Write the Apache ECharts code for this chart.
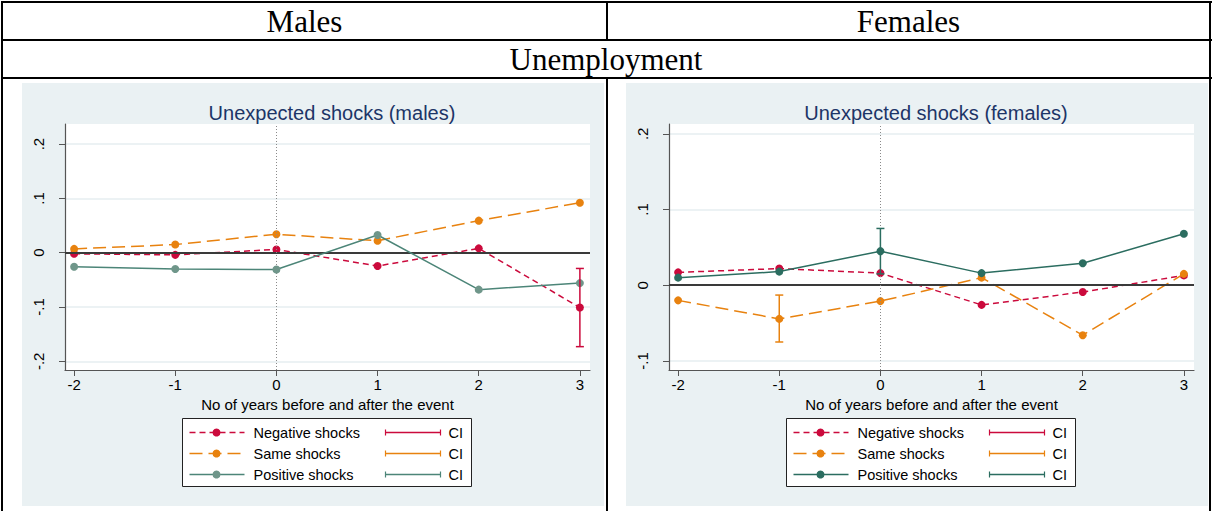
<!DOCTYPE html>
<html><head><meta charset="utf-8">
<script src="https://cdn.jsdelivr.net/npm/echarts@6/dist/echarts.min.js"></script>
<style>
body{margin:0;width:1212px;height:511px;background:#fff;position:relative;overflow:hidden;}
.b{position:absolute;background:#000;}
.h{position:absolute;font-family:"Liberation Serif",serif;font-size:31px;line-height:31px;text-align:center;color:#000;white-space:nowrap;}
.c{position:absolute;top:83px;width:582px;height:423px;background:#eaf1f3;}
</style></head><body>
<div class="b" style="left:1px;top:1px;width:1211px;height:2px"></div>
<div class="b" style="left:1px;top:1px;width:2px;height:510px"></div>
<div class="b" style="left:1209px;top:1px;width:2px;height:510px"></div>
<div class="b" style="left:1px;top:39px;width:1211px;height:2px"></div>
<div class="b" style="left:1px;top:77px;width:1211px;height:2px"></div>
<div class="b" style="left:606px;top:1px;width:2px;height:40px"></div>
<div class="b" style="left:606px;top:77px;width:2px;height:434px"></div>
<div class="h" style="left:3px;width:603px;top:6px">Males</div>
<div class="h" style="left:608px;width:601px;top:6px">Females</div>
<div class="h" style="left:3px;width:1206px;top:44px">Unemployment</div>
<div id="cm" class="c" style="left:22px"></div>
<div id="cf" class="c" style="left:626px"></div>
<script>
// ---- data ----
const years = [-2, -1, 0, 1, 2, 3];
const xTicks = [-2, -1, 0, 1, 2, 3];
const maleYTicks = [-0.2, -0.1, 0, 0.1, 0.2];
const femaleYTicks = [-0.1, 0, 0.1, 0.2];
const seriesNames = ['Negative shocks', 'Same shocks', 'Positive shocks'];
const ciLabel = 'CI';
const xTitle = 'No of years before and after the event';
const maleTitle = 'Unexpected shocks (males)';
const femaleTitle = 'Unexpected shocks (females)';

const maleNeg  = [-0.002, -0.004, 0.006, -0.0245, 0.008, -0.101];
const maleSame = [0.007, 0.015, 0.034, 0.022, 0.059, 0.092];
const malePos  = [-0.026, -0.030, -0.031, 0.0326, -0.068, -0.056];
// CI: [x, low, high]
const maleNegCI  = [[3, -0.173, -0.029]];
const maleSameCI = [];
const malePosCI  = [];

const femaleNeg  = [0.017, 0.022, 0.016, -0.026, -0.009, 0.013];
const femaleSame = [-0.020, -0.0445, -0.021, 0.010, -0.066, 0.015];
const femalePos  = [0.010, 0.018, 0.045, 0.016, 0.029, 0.068];
const femaleNegCI  = [];
const femaleSameCI = [[-1, -0.075, -0.013]];
const femalePosCI  = [[0, 0.015, 0.075]];

// ---- styling ----
const RED = '#cb0a3c', ORANGE = '#e8820f';
const FONT = '"Liberation Sans", Arial, sans-serif';

function fmtY(v) {
  if (Math.abs(v) < 1e-9) return '0';
  const s = String(Math.round(v * 10) / 10);
  return s.replace('0.', '.');
}

function makeChart(el, cfg) {
  const chart = echarts.init(el, null, { renderer: 'svg' });
  const pts = arr => years.map((x, i) => [x, arr[i]]);
  const colors = [RED, ORANGE, cfg.posLine];
  const markerColors = [RED, ORANGE, cfg.posMarker];
  const dashes = [[6, 4], [13, 6], 'solid'];
  const vals = [cfg.neg, cfg.same, cfg.pos];
  const cis = [cfg.negCI, cfg.sameCI, cfg.posCI];

  const series = [{
    type: 'line', data: [], z: 1, silent: true,
    markLine: {
      symbol: 'none', silent: true, label: { show: false },
      data: [
        { yAxis: 0, lineStyle: { color: '#3a3a3a', width: 2.2, type: 'solid' } },
        { xAxis: 0, lineStyle: { color: '#8a8a8a', width: 1, type: [1, 2] } }
      ]
    }
  }];
  vals.forEach((v, i) => {
    series.push({
      type: 'line', name: seriesNames[i], data: pts(v), z: 3 + i,
      symbol: 'circle', symbolSize: 8, showSymbol: true,
      lineStyle: { color: colors[i], width: 1.5, type: dashes[i] },
      itemStyle: { color: markerColors[i] }
    });
  });
  cis.forEach((d, i) => {
    series.push({
      type: 'custom', name: ciLabel, data: d, z: 10,
      encode: { x: 0, y: [1, 2] },
      renderItem(params, api) {
        const x = api.value(0);
        const a = api.coord([x, api.value(1)]);
        const b = api.coord([x, api.value(2)]);
        const w = 4;
        const st = { stroke: colors[i], lineWidth: 1.5 };
        return { type: 'group', children: [
          { type: 'line', shape: { x1: a[0], y1: a[1], x2: b[0], y2: b[1] }, style: st },
          { type: 'line', shape: { x1: a[0] - w, y1: a[1], x2: a[0] + w, y2: a[1] }, style: st },
          { type: 'line', shape: { x1: b[0] - w, y1: b[1], x2: b[0] + w, y2: b[1] }, style: st }
        ]};
      }
    });
  });

  // legend drawn with graphic elements
  const rowsY = [14, 35, 56];
  const legendChildren = [{
    type: 'rect', shape: { x: 0, y: 0, width: 289, height: 68 },
    style: { fill: '#fff', stroke: '#222', lineWidth: 1 }
  }];
  rowsY.forEach((y, i) => {
    legendChildren.push(
      { type: 'line', shape: { x1: 7, y1: y, x2: 62, y2: y },
        style: { stroke: colors[i], lineWidth: 1.5, lineDash: dashes[i] === 'solid' ? null : dashes[i] } },
      { type: 'circle', shape: { cx: 34, cy: y, r: 4 }, style: { fill: markerColors[i] } },
      { type: 'text', x: 71, y: y, style: { text: seriesNames[i], font: '14.5px ' + FONT, fill: '#000', verticalAlign: 'middle' } },
      { type: 'line', shape: { x1: 203, y1: y, x2: 258, y2: y }, style: { stroke: colors[i], lineWidth: 1.5 } },
      { type: 'line', shape: { x1: 203, y1: y - 3, x2: 203, y2: y + 3 }, style: { stroke: colors[i], lineWidth: 1.2 } },
      { type: 'line', shape: { x1: 258, y1: y - 3, x2: 258, y2: y + 3 }, style: { stroke: colors[i], lineWidth: 1.2 } },
      { type: 'text', x: 266, y: y, style: { text: ciLabel, font: '14.5px ' + FONT, fill: '#000', verticalAlign: 'middle' } }
    );
  });

  chart.setOption({
    animation: false,
    textStyle: { fontFamily: FONT },
    title: {
      text: cfg.title, left: 305, top: 15, textAlign: 'center',
      textStyle: { fontFamily: FONT, fontSize: 20, fontWeight: 'normal', color: '#1d3567' }
    },
    grid: { left: 43, right: 14, top: 41, height: 246, show: true, backgroundColor: '#fff', borderWidth: 0 },
    xAxis: {
      type: 'value', min: -2.09, max: 3.1,
      name: xTitle, nameLocation: 'middle', nameGap: 24,
      nameTextStyle: { fontFamily: FONT, fontSize: 15, color: '#000', verticalAlign: 'top' },
      axisLine: { show: true, onZero: false, lineStyle: { color: '#555', width: 1.2 } },
      axisTick: { show: true, length: 6, customValues: xTicks, lineStyle: { color: '#555' } },
      axisLabel: { customValues: xTicks, margin: 7, fontSize: 15, color: '#000', fontFamily: FONT },
      splitLine: { show: false }
    },
    yAxis: {
      type: 'value', min: cfg.ymin, max: cfg.ymax,
      axisLine: { show: true, onZero: false, lineStyle: { color: '#555', width: 1.2 } },
      axisTick: { show: true, length: 6, customValues: cfg.yTicks, lineStyle: { color: '#555' } },
      axisLabel: { customValues: cfg.yTicks, rotate: 90, margin: 19, fontSize: 15, color: '#000',
        fontFamily: FONT, formatter: fmtY },
      splitLine: { show: true, lineStyle: { color: '#e6eef0', width: 1.5 } }
    },
    graphic: [{ type: 'group', left: 160, top: 335, children: legendChildren }],
    series
  });
}

makeChart(document.getElementById('cm'), {
  title: maleTitle, ymin: -0.216, ymax: 0.237, yTicks: maleYTicks,
  neg: maleNeg, same: maleSame, pos: malePos,
  negCI: maleNegCI, sameCI: maleSameCI, posCI: malePosCI,
  posLine: '#4c8578', posMarker: '#6f968a'
});
makeChart(document.getElementById('cf'), {
  title: femaleTitle, ymin: -0.112, ymax: 0.213, yTicks: femaleYTicks,
  neg: femaleNeg, same: femaleSame, pos: femalePos,
  negCI: femaleNegCI, sameCI: femaleSameCI, posCI: femalePosCI,
  posLine: '#2b6d60', posMarker: '#2b6d60'
});
</script>
</body></html>
